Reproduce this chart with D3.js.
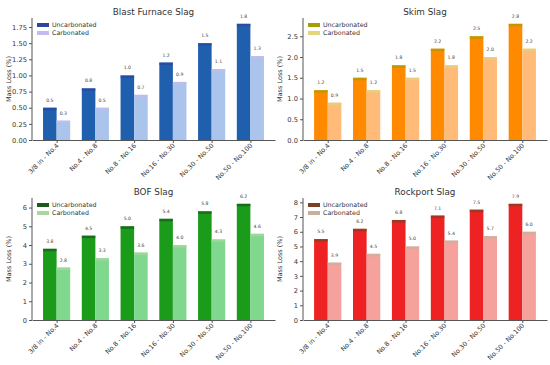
<!DOCTYPE html>
<html><head><meta charset="utf-8">
<script src="https://cdn.jsdelivr.net/npm/d3@7"></script>
<style>body{margin:0;background:#fff}svg{display:block;font-family:"DejaVu Sans",sans-serif}</style>
</head><body><svg id="c" width="550" height="365"></svg>
<script>
const categories = ["3/8 in - No.4","No.4 - No.8","No.8 - No.16","No.16 - No.30","No.30 - No.50","No.50 - No.100"];
const seriesNames = ["Uncarbonated","Carbonated"];
const blastUnc = [0.5,0.8,1.0,1.2,1.5,1.8];
const blastCarb = [0.3,0.5,0.7,0.9,1.1,1.3];
const skimUnc = [1.2,1.5,1.8,2.2,2.5,2.8];
const skimCarb = [0.9,1.2,1.5,1.8,2.0,2.2];
const bofUnc = [3.8,4.5,5.0,5.4,5.8,6.2];
const bofCarb = [2.8,3.3,3.6,4.0,4.3,4.6];
const rockUnc = [5.5,6.2,6.8,7.1,7.5,7.9];
const rockCarb = [3.9,4.5,5.0,5.4,5.7,6.0];
const blastTicks = [0,0.25,0.5,0.75,1.0,1.25,1.5,1.75];
const skimTicks = [0,0.5,1.0,1.5,2.0,2.5];
const bofTicks = [0,1,2,3,4,5,6];
const rockTicks = [0,1,2,3,4,5,6,7,8];

const panels = [
  {title:"Blast Furnace Slag", unc:blastUnc, carb:blastCarb, ticks:blastTicks, fmt:".2f",
   x0:32, x1:275, yTop:18, yBot:140, cols:["#1f5fae","#aac4ec"], leg:["#2b47a0","#c4bcf0"]},
  {title:"Skim Slag", unc:skimUnc, carb:skimCarb, ticks:skimTicks, fmt:".1f",
   x0:303, x1:547, yTop:18, yBot:140, cols:["#ff8a00","#ffbb77"], leg:["#a89c00","#e0d67c"]},
  {title:"BOF Slag", unc:bofUnc, carb:bofCarb, ticks:bofTicks, fmt:"d",
   x0:32, x1:275, yTop:198, yBot:320, cols:["#1a9c1a","#7fd88e"], leg:["#1c5a1c","#a8d8a0"]},
  {title:"Rockport Slag", unc:rockUnc, carb:rockCarb, ticks:rockTicks, fmt:"d",
   x0:303, x1:547, yTop:198, yBot:320, cols:["#ee2222","#f5a29c"], leg:["#7a4222","#c8b0a0"]}
];

const svg = d3.select("#c");
const W = 0.35;

panels.forEach(p => {
  const g = svg.append("g");
  const ymax = d3.max(p.unc.concat(p.carb)) * 1.05;
  const x = d3.scaleLinear().domain([-W - 0.285, categories.length - 1 + W + 0.285]).range([p.x0, p.x1]);
  const y = d3.scaleLinear().domain([0, ymax]).range([p.yBot, p.yTop]);
  const bw = x(W) - x(0);

  [p.unc, p.carb].forEach((vals, si) => {
    const off = si === 0 ? -W/2 : W/2;
    g.selectAll(null).data(vals).enter().append("rect")
      .attr("x", (d,i) => x(i + off) - bw/2)
      .attr("y", d => y(d))
      .attr("width", bw)
      .attr("height", d => y(0) - y(d))
      .attr("fill", p.cols[si]);
    g.selectAll(null).data(vals).enter().append("rect")
      .attr("x", (d,i) => x(i + off) - bw/2)
      .attr("y", d => y(d))
      .attr("width", bw)
      .attr("height", 2.5)
      .attr("fill", p.leg[si]).attr("opacity", 0.7);
    g.selectAll(null).data(vals).enter().append("text")
      .attr("x", (d,i) => x(i + off))
      .attr("y", d => y(d) - 6)
      .attr("text-anchor", "middle")
      .attr("font-size", 4.6)
      .attr("fill", "#444")
      .text(d => d3.format(".1f")(d));
  });

  // y axis
  const ya = g.append("g").attr("transform", `translate(${p.x0},0)`)
    .call(d3.axisLeft(y).tickValues(p.ticks).tickFormat(d3.format(p.fmt)).tickSize(3).tickPadding(2).tickSizeOuter(0));
  ya.select(".domain").attr("stroke", "#555").attr("d", `M0,${p.yBot}V${p.yTop}`);
  ya.selectAll(".tick line").attr("stroke", "#555");
  ya.selectAll(".tick text").attr("font-size", 6.7).attr("fill", "#333").attr("font-family", "DejaVu Sans");

  // x axis
  const xa = g.append("g").attr("transform", `translate(0,${p.yBot})`)
    .call(d3.axisBottom(x).tickValues(d3.range(categories.length)).tickFormat(i => categories[i]).tickSize(3).tickSizeOuter(0));
  xa.select(".domain").attr("stroke", "#555");
  xa.selectAll(".tick line").attr("stroke", "#555");
  xa.selectAll(".tick text")
    .attr("font-size", 6.5).attr("fill", "#333").attr("font-family", "DejaVu Sans")
    .attr("text-anchor", "end")
    .attr("dy", null).attr("y", 0)
    .attr("transform", "translate(2,6) rotate(-45)");

  // title
  g.append("text").attr("x", (p.x0 + p.x1)/2).attr("y", p.yTop - 3)
    .attr("text-anchor", "middle").attr("font-size", 8.8).attr("fill", "#333").text(p.title);

  // y label
  g.append("text").attr("transform", `translate(${p.x0 - 21},${(p.yTop + p.yBot)/2}) rotate(-90)`)
    .attr("text-anchor", "middle").attr("font-size", 6.5).attr("fill", "#333").text("Mass Loss (%)");

  // legend
  seriesNames.forEach((s, si) => {
    const ly = p.yTop + 7 + si * 8;
    g.append("rect").attr("x", p.x0 + 5).attr("y", ly - 2).attr("width", 12).attr("height", 4).attr("fill", p.leg[si]);
    g.append("text").attr("x", p.x0 + 20).attr("y", ly + 2.2).attr("font-size", 6.3).attr("fill", "#333").text(s);
  });
});
</script></body></html>
